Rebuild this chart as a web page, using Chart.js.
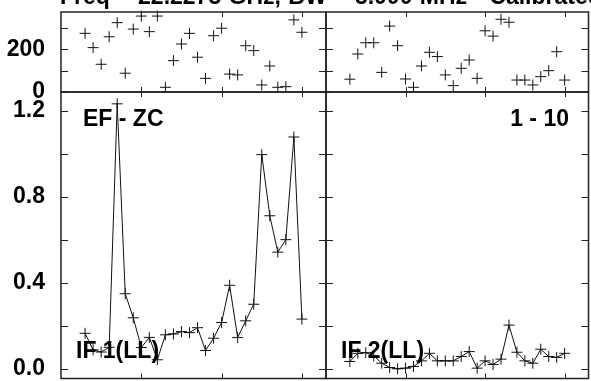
<!DOCTYPE html>
<html>
<head>
<meta charset="utf-8">
<script src="https://cdn.jsdelivr.net/npm/chart.js@4/dist/chart.umd.min.js"></script>
<style>
    html, body { margin: 0; padding: 0; background: #fff; overflow: hidden; }
    #wrap { position: relative; width: 591px; height: 381px; overflow: hidden; background: #fff; }
    #wrap canvas { position: absolute; left: 0; top: 0; }
    .txt { position: absolute; font-family: "Liberation Sans", Arial, sans-serif; font-weight: bold; font-size: 23px; line-height: 23px; white-space: pre; color: #000; }
</style>
</head>
<body>
<div id="wrap">
    <canvas id="topLeft" width="595" height="385" style="width:595px;height:385px"></canvas>
    <canvas id="topRight" width="595" height="385" style="width:595px;height:385px"></canvas>
    <canvas id="botLeft" width="595" height="385" style="width:595px;height:385px"></canvas>
    <canvas id="botRight" width="595" height="385" style="width:595px;height:385px"></canvas>
    <div class="txt" style="left:60px;top:-15.5px;word-spacing:1px">Freq = 22.2275 GHz, BW = 5.000 MHz   Calibrated</div>
    <div class="txt" style="left:83px;top:106.5px">EF - ZC</div>
    <div class="txt" style="right:22px;top:106.5px">1 - 10</div>
    <div class="txt" style="left:76px;top:339px">IF 1(LL)</div>
    <div class="txt" style="left:341px;top:339px">IF 2(LL)</div>
</div>
<script>
"use strict";

// scan numbers along the x axis
var scans = [3, 4, 5, 6, 7, 8, 9, 10, 11, 12, 13, 14, 15, 16, 17, 18, 19, 20, 21, 22, 23, 24, 25, 26, 27, 28, 29, 30];

// upper strips (markers only)
var upperIF1 = [275, 208, 130, 259, 325, 88, 295, 356, 283, 356, 22, 147, 225, 275, 163, 64, 264, 299, 84, 80, 217, 194, 33, 122, 22, 25, 338, 280];
var upperIF2 = [60, 178, 231, 231, 92, 309, 217, 61, 22, 122, 186, 166, 80, 30, 111, 150, 64, 287, 262, 341, 327, 56, 56, 33, 72, 100, 189, 56];

// lower panels (line + markers)
var ampIF1 = [0.165, 0.088, 0.078, 0.100, 1.231, 0.349, 0.237, 0.099, 0.146, 0.042, 0.158, 0.162, 0.173, 0.168, 0.191, 0.085, 0.142, 0.215, 0.388, 0.145, 0.223, 0.300, 0.995, 0.711, 0.542, 0.600, 1.077, 0.231];
var ampIF2 = [0.034, 0.072, 0.075, 0.060, 0.026, 0.006, 0.000, 0.003, 0.011, 0.037, 0.072, 0.037, 0.037, 0.037, 0.057, 0.080, 0.003, 0.037, 0.020, 0.045, 0.203, 0.077, 0.037, 0.026, 0.091, 0.057, 0.053, 0.072];

// ticks
var xTickValues = [10, 20, 30];
var upperTicks = [0, 100, 200, 300];
var upperLabels = [0, 200];
var lowerTicks = [0, 0.2, 0.4, 0.6, 0.8, 1.0, 1.2];
var lowerLabels = [0, 0.4, 0.8, 1.2];

var INK = '#111';
var tickFont = { family: '"Liberation Sans", Arial, sans-serif', size: 23, weight: 'bold' };

// frame and inward tick marks, placed through the chart's own scales
var framePlugin = {
    id: 'frame',
    afterDatasetsDraw: function (chart, args, opts) {
        var ctx = chart.ctx, a = chart.chartArea;
        var xs = chart.scales.x, ys = chart.scales.y;
        ctx.save();
        ctx.strokeStyle = '#222';
        ctx.lineWidth = 1.5;
        ctx.strokeRect(a.left, a.top, a.right - a.left, a.bottom - a.top);
        ctx.lineWidth = 1;
        ctx.beginPath();
        xTickValues.forEach(function (v) {
            var px = Math.round(xs.getPixelForValue(v)) + 0.5;
            ctx.moveTo(px, a.top); ctx.lineTo(px, a.top + 5);
            ctx.moveTo(px, a.bottom); ctx.lineTo(px, a.bottom - 5);
        });
        opts.yTicks.forEach(function (v) {
            var py = Math.round(ys.getPixelForValue(v)) + 0.5;
            ctx.moveTo(a.left, py); ctx.lineTo(a.left + 7, py);
            ctx.moveTo(a.right, py); ctx.lineTo(a.right - 7, py);
        });
        ctx.stroke();
        ctx.restore();
    }
};

function makePanel(id, values, cfg) {
    var points = scans.map(function (s, i) { return { x: s, y: values[i] }; });
    return new Chart(document.getElementById(id), {
        type: 'scatter',
        data: {
            datasets: [{
                data: points,
                showLine: cfg.line,
                borderColor: INK,
                borderWidth: 1,
                pointStyle: 'cross',
                pointRadius: 5.5,
                pointBorderWidth: 1,
                pointBorderColor: INK,
                clip: false
            }]
        },
        options: {
            responsive: false,
            animation: false,
            events: [],
            layout: { padding: cfg.padding },
            plugins: {
                legend: { display: false },
                tooltip: { enabled: false },
                frame: { yTicks: cfg.yTicks }
            },
            scales: {
                x: {
                    type: 'linear',
                    display: false,
                    min: 0,
                    max: 33
                },
                y: {
                    display: cfg.showY,
                    min: cfg.yMin,
                    max: cfg.yMax,
                    grid: { display: false },
                    border: { display: false },
                    afterBuildTicks: function (s) {
                        s.ticks = cfg.yTicks.map(function (v) { return { value: v }; });
                    },
                    afterFit: function (s) {
                        s.width = cfg.showY ? 61 : 0;
                        s.paddingTop = 0;
                        s.paddingBottom = 0;
                    },
                    ticks: {
                        color: '#000',
                        font: tickFont,
                        padding: 8,
                        callback: function (v) {
                            if (cfg.yLabels.indexOf(v) < 0) return '';
                            return cfg.digits ? v.toFixed(cfg.digits) : String(v);
                        }
                    }
                }
            }
        },
        plugins: [framePlugin]
    });
}

var upper = { line: false, yMin: 0, yMax: 375, yTicks: upperTicks, yLabels: upperLabels, digits: 0 };
var lower = { line: true, yMin: -0.045, yMax: 1.286, yTicks: lowerTicks, yLabels: lowerLabels, digits: 1 };

makePanel('topLeft', upperIF1, Object.assign({}, upper, { showY: true, padding: { left: 0, top: 12, right: 269, bottom: 293 } }));
makePanel('topRight', upperIF2, Object.assign({}, upper, { showY: false, padding: { left: 326, top: 12, right: 3, bottom: 293 } }));
makePanel('botLeft', ampIF1, Object.assign({}, lower, { showY: true, padding: { left: 0, top: 92, right: 269, bottom: 4.5 } }));
makePanel('botRight', ampIF2, Object.assign({}, lower, { showY: false, padding: { left: 326, top: 92, right: 3, bottom: 4.5 } }));
</script>
</body>
</html>
